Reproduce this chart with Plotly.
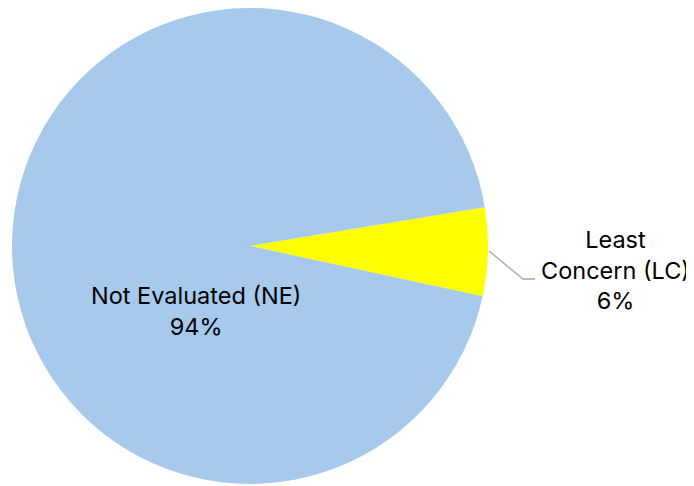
import plotly.graph_objects as go

labels = ["Least Concern (LC)", "Not Evaluated (NE)"]
values = [6, 94]
colors = ["#FFFF00", "#A6C9EC"]
label_texts = ["Least<br>Concern (LC)<br>6%", "Not Evaluated (NE)<br>94%"]

W, H = 694, 486
OFF = 8  # page body margin offset


def px(x):
    return (x - OFF) / W


def py(y):
    return 1 - (y - OFF) / H


fig = go.Figure(go.Pie(
    labels=labels, values=values, sort=False, direction="clockwise",
    rotation=91.4 - values[0] / 100 * 360 / 2,
    marker=dict(colors=colors, line=dict(width=0)),
    textinfo="none", hoverinfo="label+percent",
    domain=dict(x=[px(12), px(488)], y=[py(484), py(8)]),
    showlegend=False,
))

font = dict(family="Inter, Open Sans, sans-serif", size=23.5, color="#000000")
fig.add_annotation(x=px(615), y=py(270), xref="paper", yref="paper",
                   text=label_texts[0], showarrow=False, font=font,
                   align="center", xanchor="center", yanchor="middle")
fig.add_annotation(x=px(196), y=py(311), xref="paper", yref="paper",
                   text=label_texts[1], showarrow=False, font=font,
                   align="center", xanchor="center", yanchor="middle")
fig.add_shape(type="path", xref="paper", yref="paper",
              path=f"M {px(489)} {py(251)} L {px(523)} {py(279)} L {px(535)} {py(279)}",
              line=dict(color="#A6A6A6", width=1.3))

fig.update_layout(width=W, height=H, margin=dict(l=0, r=0, t=0, b=0),
                  paper_bgcolor="white", plot_bgcolor="white")
fig.write_html("out.html")
